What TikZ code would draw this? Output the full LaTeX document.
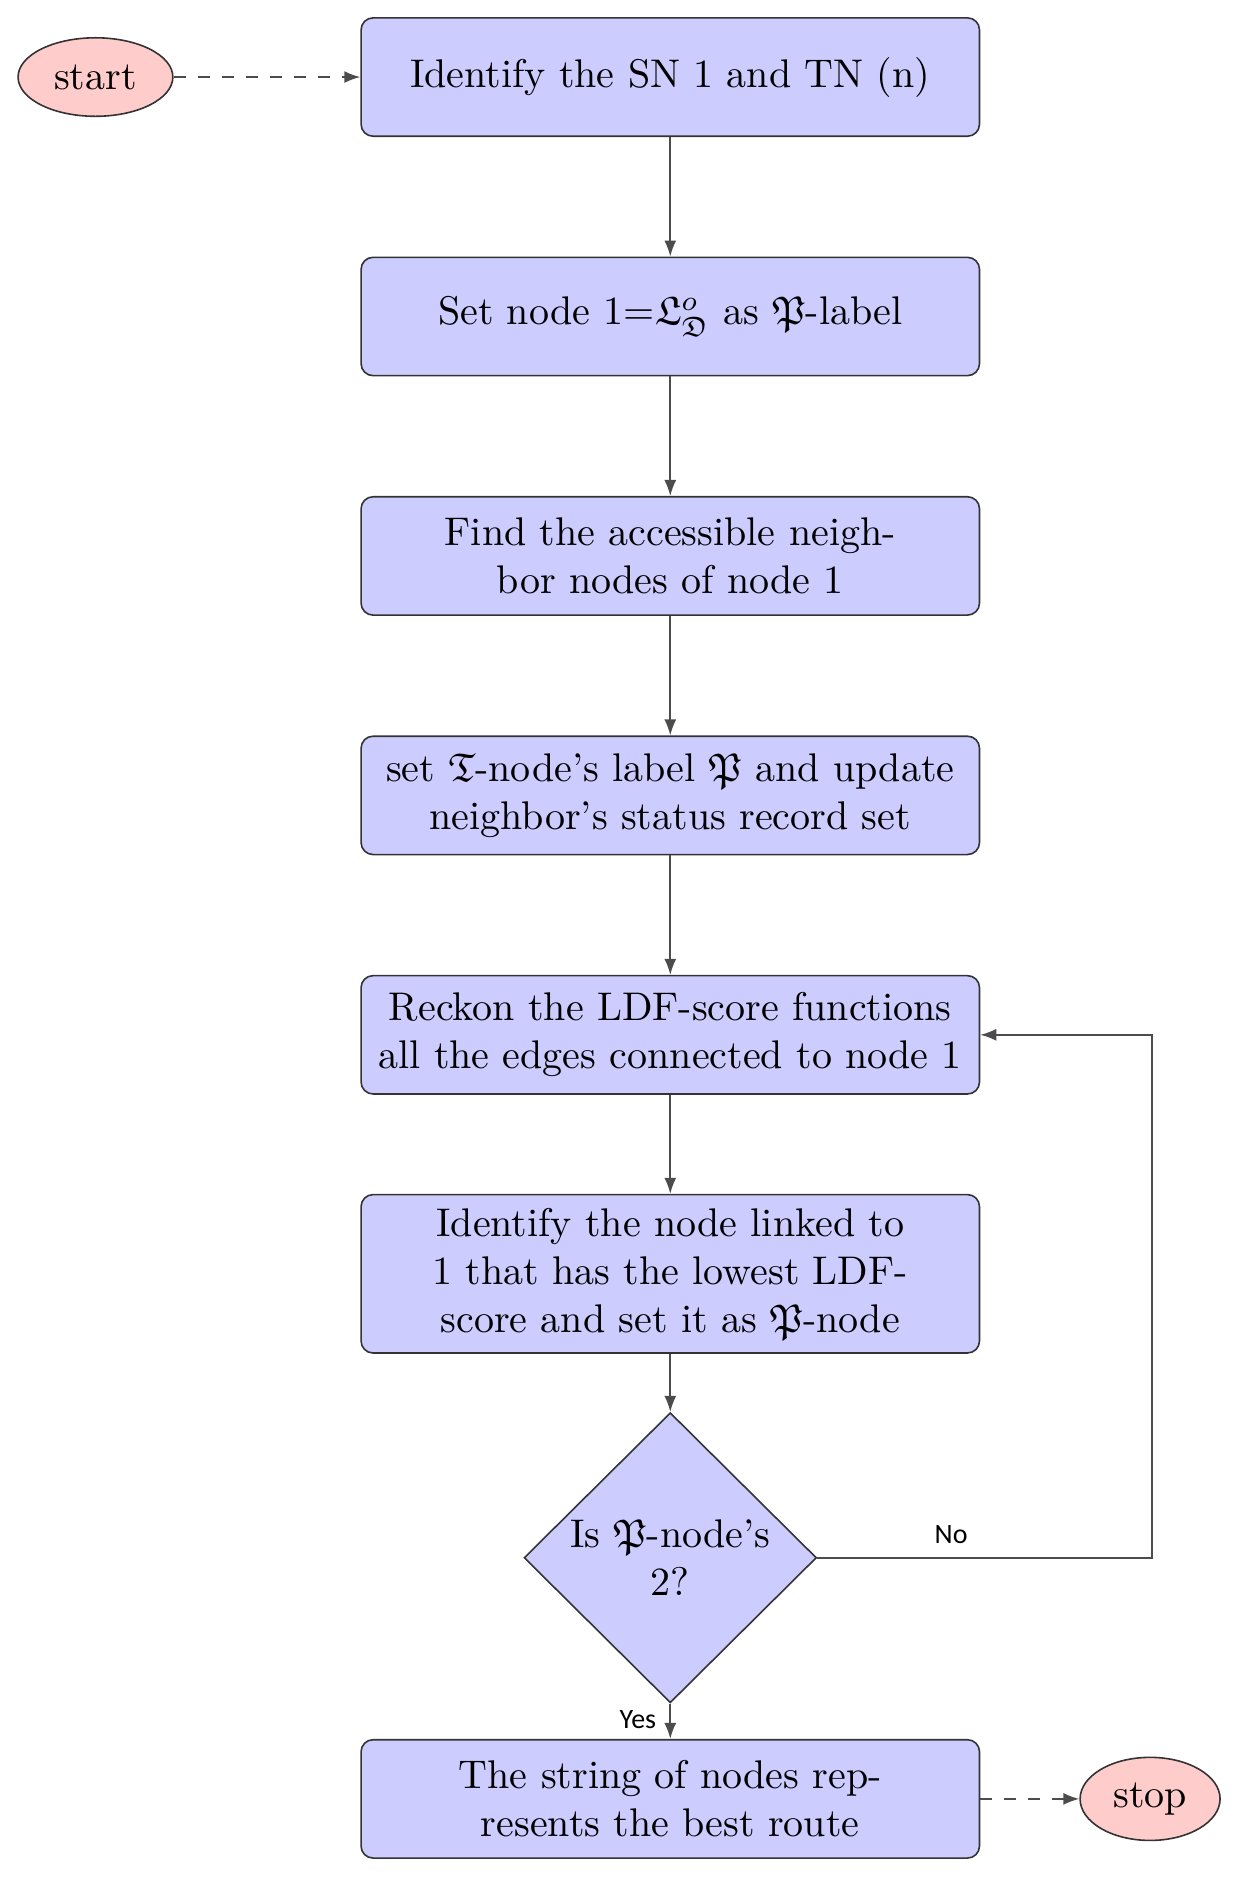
\documentclass[tikz,border=0pt]{standalone}
\usepackage{amsmath}
\usepackage{amssymb}
\usepackage{fontspec}
\newfontfamily\labelfont{Carlito}
\usepackage{tikz}
\usetikzlibrary{shapes, arrows.meta, positioning, shapes.geometric}

\tikzset{
  process/.style={rectangle, rounded corners=3pt, draw=black!80, fill=blue!20,
    text width=5.2cm, minimum width=5.43cm, minimum height=1.04cm, align=center},
  decision/.style={diamond, draw=black!80, fill=blue!20,
    minimum width=2.57cm, minimum height=2.55cm, inner sep=0pt, align=center},
  startstop/.style={ellipse, draw=black!80, fill=red!20, inner sep=0pt},
  line/.style={draw=black!70, -{Latex[length=4pt,width=3pt]}},
  yesno/.style={font=\labelfont\fontsize{7}{8}\selectfont},
}

\begin{document}
\begin{tikzpicture}[node distance=1.05cm]
    \useasboundingbox (0,0) rectangle (10.879,-16.529);
    \node[process] (b1) at (5.89,-0.677) {Identify the SN 1 and TN (n)};
    \node[process, below=of b1] (b2) {Set node 1=$\mathfrak{L}^{o}_{\mathfrak{D}}$ as $\mathfrak{P}$-label};
    \node[process, below=of b2] (b3) {Find the accessible neigh-\\bor nodes of node 1};
    \node[process, below=of b3] (b4) {set $\mathfrak{T}$-node's label $\mathfrak{P}$ and update\\neighbor's status record set};
    \node[process, below=of b4] (b5) {Reckon the LDF-score functions\\all the edges connected to node 1};
    \node[process, below=0.87cm of b5] (b6) {Identify the node linked to\\1 that has the lowest LDF-\\score and set it as $\mathfrak{P}$-node};
    \node[decision, below=0.51cm of b6] (dec) {Is $\mathfrak{P}$-node's\\2?};
    \node[process, below=0.31cm of dec] (b7) {The string of nodes rep-\\resents the best route};
    \node[startstop, minimum width=1.36cm, minimum height=0.69cm, left=1.64cm of b1] (start) {start};
    \node[startstop, minimum width=1.23cm, minimum height=0.73cm, right=0.87cm of b7] (stop) {stop};

    \draw[line, dashed] (start) -- (b1);
    \foreach \a/\b in {b1/b2, b2/b3, b3/b4, b4/b5, b5/b6, b6/dec} {
      \draw[line] (\a) -- (\b);
    }
    \draw[line] (dec) -- node[yesno, left, pos=0.45] {Yes} (b7);
    \draw[line] (dec.east) -- node[yesno, above, pos=0.4] {No} ++(2.94,0) |- (b5.east);
    \draw[line, dashed] (b7) -- (stop);
\end{tikzpicture}
\end{document}
